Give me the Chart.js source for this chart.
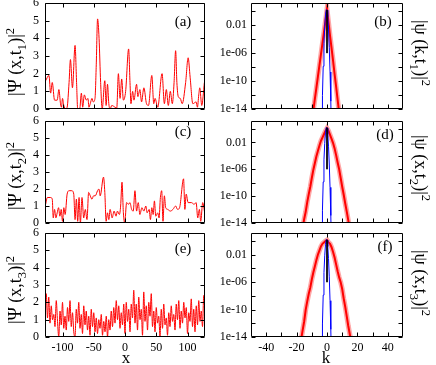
<!DOCTYPE html>
<html><head><meta charset="utf-8">
<script src="https://cdn.jsdelivr.net/npm/chart.js@4"></script>
<style>
html,body{margin:0;padding:0;background:#fff;}
#wrap{position:relative;width:436px;height:365px;overflow:hidden;background:#fff;}
canvas{position:absolute;}
.t{position:absolute;white-space:nowrap;font-family:"Liberation Serif",serif;color:#000;line-height:1;}
.rl{transform:translate(-50%,-50%) rotate(-90deg);font-size:18px;}
.rr{transform:translate(-50%,-50%) rotate(90deg);font-size:18px;}
.pl{transform:translate(-50%,-50%);font-size:15px;}
.ax{transform:translate(-50%,-50%);font-size:17px;}
sub,sup{font-size:70%;line-height:0;}
</style></head>
<body>
<div id="wrap">
<canvas id="ca" width="210" height="122" style="left:0;top:-10px"></canvas>
<canvas id="cc" width="210" height="122" style="left:0;top:104px"></canvas>
<canvas id="ce" width="210" height="145" style="left:0;top:220px"></canvas>
<canvas id="cb" width="231" height="122" style="left:205px;top:-10px"></canvas>
<canvas id="cd" width="231" height="122" style="left:205px;top:104px"></canvas>
<canvas id="cf" width="231" height="145" style="left:205px;top:220px"></canvas>

<div class="t rl" style="left:15px;top:62px">|Ψ (x,t<sub>1</sub>)|<sup>2</sup></div>
<div class="t rl" style="left:15px;top:176px">|Ψ (x,t<sub>2</sub>)|<sup>2</sup></div>
<div class="t rl" style="left:15px;top:290px">|Ψ (x,t<sub>3</sub>)|<sup>2</sup></div>
<div class="t rr" style="left:421px;top:53px">|ψ (k,t<sub>1</sub>)|<sup>2</sup></div>
<div class="t rr" style="left:421px;top:168px">|ψ (x,t<sub>2</sub>)|<sup>2</sup></div>
<div class="t rr" style="left:421px;top:283px">|ψ (x,t<sub>3</sub>)|<sup>2</sup></div>

<div class="t pl" style="left:183px;top:21px">(a)</div>
<div class="t pl" style="left:383px;top:21px">(b)</div>
<div class="t pl" style="left:183px;top:131px">(c)</div>
<div class="t pl" style="left:385px;top:134px">(d)</div>
<div class="t pl" style="left:183px;top:248px">(e)</div>
<div class="t pl" style="left:385px;top:246px">(f)</div>

<div class="t ax" style="left:126px;top:357px">x</div>
<div class="t ax" style="left:326px;top:357px">k</div>
</div>
<script>
// ---- panel (a): |Psi(x,t1)|^2 ----
const xA = [-127,-121.7,-119,-116.4,-112.7,-108.5,-105.8,-103.2,-101.6,-100,-97.9,-95.2,-92.6,-89.5,-87.3,-84.1,-79.9,-77.5,-75.7,-72.5,-69.8,-67.7,-65.1,-61.9,-59.3,-57.7,-55.6,-52.9,-50.8,-48,-46,-43.9,-41.5,-39,-36.5,-32.3,-30.2,-28,-25.9,-23.8,-21.2,-15.9,-13.2,-10.6,-7.9,-5.3,-2.6,1,5.8,8,9.5,12.2,14.3,18.5,20.6,23.8,26.5,30.2,34.4,37.6,42.9,46,48.1,52.4,59.3,63,66.1,69.3,72.5,75.7,78.5,81,83,85.2,88.4,91.5,97,101,104.2,108.5,113.8,115.9,118,119.6,122.8,127];
const yA = [1.6,1.9,0.9,1.5,0.5,0.5,1.1,0.3,0.1,0.6,0.2,0.0,0.1,1.5,2.8,1.2,3.6,1.5,0.0,0.0,0.9,0.1,0.8,0.5,0.6,0.1,0.3,0.6,0.4,0.6,2.5,5.1,4.0,1.5,0.0,1.6,0.2,1.4,0.3,0.0,0.2,0.1,0.05,2.0,0.6,1.7,0.5,1.0,3.4,1.5,0.3,1.0,0.5,1.4,0.7,1.1,0.4,1.2,0.3,0.2,1.9,0.3,0.6,0.1,2.0,0.3,1.1,0.2,1.0,0.3,1.5,3.3,1.5,0.7,0.6,0.3,1.5,2.9,1.8,0.3,0.4,0.1,0.8,1.2,0.2,1.5];

// ---- panel (c): |Psi(x,t2)|^2 ----
const xC = [-127,-124.3,-119,-116.4,-114.8,-112.7,-110.6,-108.5,-106.3,-104.2,-102.1,-100,-97.9,-95.8,-92.6,-89.4,-85.2,-82,-79.9,-77.8,-75.7,-73.5,-71.4,-68.8,-66.1,-63.5,-60.8,-58.2,-55.6,-52.9,-50.3,-47.6,-43.9,-41.8,-39.7,-34.4,-32.3,-30.2,-28,-25.9,-23.8,-20.6,-17.5,-14.3,-12.2,-9,-7,-4.8,-2.6,-0.5,2.6,5.8,7.9,10.6,13.2,15.9,18.5,21.2,23.8,27,30.2,33.3,35.4,38.6,40.7,42.9,45,47.1,49.2,52.4,54.5,56.6,58.7,60.8,63,65.1,68.3,72.5,76.7,81,84.1,87.3,93.7,95.8,97.9,101,106.3,110.6,113.8,116.4,119,121.2,124.3,127.5];
const yC = [1.1,1.5,1.5,1.4,0.3,0.8,0.3,0.6,0.9,0.4,0.8,0.1,0.9,0.5,1.7,1.9,1.9,1.7,0.2,1.4,0.1,1.5,0.0,1.5,0.3,0.8,0.2,1.8,1.6,1.4,1.6,1.6,1.9,2.0,1.6,2.7,1.8,0.1,0.6,0.2,0.8,0.3,0.7,0.4,0.7,0.5,1.0,2.4,0.6,0.0,1.2,1.1,1.2,0.8,0.7,1.9,0.7,1.2,0.5,0.9,0.7,1.0,0.6,0.8,0.2,0.9,0.5,1.3,0.4,0.6,0.3,1.5,1.9,0.1,1.6,0.9,0.8,0.7,0.8,1.0,0.8,0.9,2.6,0.8,1.7,1.2,1.2,1.1,1.2,0.3,0.8,0.1,1.2,0.6];

// ---- panel (e): |Psi(x,t3)|^2, sampled every 2 from x=-128 ----
const xEStart = -128, xEStep = 2;
const yE = [0.4,2.5,1.1,2.3,0.8,1.8,1.0,1.3,0.6,2.1,0.9,0.0,1.5,0.7,2.0,0.5,1.2,0.4,1.7,0.9,2.1,0.6,1.4,0.3,0.0,1.6,0.8,2.0,0.5,1.3,0.2,1.8,0.7,1.5,0.4,1.2,0.1,1.6,0.6,1.4,0.3,1.1,0.2,1.0,0.5,1.3,0.1,0.9,0.3,1.2,0.0,1.0,0.4,1.5,0.6,1.7,0.8,2.1,1.0,1.8,0.5,1.4,0.7,1.9,0.2,2.0,0.9,1.6,0.3,1.9,1.1,2.7,0.8,1.9,0.4,2.3,1.0,1.6,0.1,2.6,0.9,1.8,0.4,2.0,1.2,2.5,0.6,1.5,0.3,1.7,0.8,1.2,0.0,1.6,0.5,1.9,0.7,1.1,0.1,1.4,0.6,1.8,0.9,1.3,0.4,1.9,1.0,2.1,0.5,1.5,0.8,2.0,1.1,1.7,0.2,1.4,0.9,2.2,0.6,1.6,0.3,1.8,0.7,2.1,0.9,1.5,0.6,2.4,1.8];

// ---- spectra ----
const kB = [-9,-8,-7,-6,-5,-4,-3,-2,-1,0,1,2,3,4,5,6,7,8];
const specB = [6e-15,2.5e-13,1e-11,4e-10,1.6e-8,6e-7,2.5e-5,1e-3,4e-2,2,2.5e-2,3e-4,5e-6,8e-8,1e-9,1.6e-11,2e-13,3e-15];
const kD = [-16,-15,-14,-13,-12,-11,-10,-9,-8,-7,-6,-5,-4,-3,-2,-1,0,1,2,3,4,5,6,7,8,9,10,11,12,13,14,15];
const specD = [2e-15,4e-14,5e-13,1.26e-11,2e-10,2.5e-9,5e-8,7.9e-7,7.9e-6,7.9e-5,5e-4,3.2e-3,1.6e-2,5e-2,0.16,0.5,1.26,0.5,0.126,3.2e-2,7.9e-3,1.26e-3,1.26e-4,1e-5,1e-6,5e-8,2.5e-9,1.6e-10,7.9e-12,5e-13,2.5e-14,1.26e-15];
const kF = [-17,-16,-15,-14,-13,-12,-11,-10,-9,-8,-7,-6,-5,-4,-3,-2,-1,0,1,2,3,4,5,6,7,8,9,10,11,12,13,14,15,16];
const specF = [5e-15,1e-13,2e-12,1e-10,1.6e-9,2e-8,1.6e-7,2.5e-6,2.5e-5,2e-4,1.6e-3,1e-2,4e-2,0.16,0.4,0.63,1,1.4,0.63,0.4,0.126,2.5e-2,4e-3,4e-4,4e-5,5e-6,1e-6,1e-7,4e-9,2.5e-10,1e-11,4e-13,2.5e-14,1.6e-15];
const kInit = [-3.4,-3.2,-3,-2.5,-2,-1.5,-1,-0.5,0,0.5,1,1.5,2,2.5,2.7];
const specInit = [5e-16,1e-14,8e-13,1.3e-8,2.5e-5,7e-3,0.3,1.7,1.4,0.16,2.7e-3,6e-6,2e-9,1.3e-13,1e-15];
const kCenter = [0,0];
const specCenter = [1.5,1e-6];

// ---- ticks ----
const xTicksL = [-100,-50,0,50,100];
const yTicksL = [0,1,2,3,4,5,6];
const kTicks = [-40,-20,0,20,40];
const kMinor = [-40,-30,-20,-10,0,10,20,30,40];
const logLabelVals = [1e-14,1e-10,1e-6,1e-2];
const logLabelText = ['1e-14','1e-10','1e-06','0.01'];
const logTicks = [1e-14,1e-12,1e-10,1e-8,1e-6,1e-4,1e-2,1];

const pts = (xs, ys) => xs.map((x, i) => ({x, y: ys[i]}));
const FONT = {family: '"Liberation Serif", serif', size: 12};

const frame = {
  id: 'frame',
  afterDatasetsDraw(chart, args, o) {
    const {ctx, chartArea: a, scales: {x, y}} = chart;
    const L = Math.round(a.left) + 0.5, R = Math.round(a.right) - 0.5;
    const T = Math.round(a.top) + 0.5, B = Math.round(a.bottom) - 0.5;
    ctx.save();
    ctx.strokeStyle = '#000'; ctx.lineWidth = 1;
    ctx.beginPath();
    ctx.rect(L, T, R - L, B - T);
    const len = 4;
    o.xt.forEach(v => { const p = Math.round(x.getPixelForValue(v)) + 0.5;
      ctx.moveTo(p, B); ctx.lineTo(p, B - len); ctx.moveTo(p, T); ctx.lineTo(p, T + len); });
    o.yt.forEach(v => { const p = Math.round(y.getPixelForValue(v)) + 0.5;
      ctx.moveTo(L, p); ctx.lineTo(L + len, p); ctx.moveTo(R, p); ctx.lineTo(R - len, p); });
    ctx.stroke();
    ctx.restore();
  }
};

function mk(id, datasets, c) {
  return new Chart(document.getElementById(id), {
    type: 'line',
    data: {datasets},
    options: {
      responsive: false, animation: false, devicePixelRatio: 1,
      layout: {autoPadding: false, padding: {top: c.pt, right: c.pr, left: 0, bottom: 0}},
      plugins: {legend: {display: false}, tooltip: {enabled: false}, frame: {xt: c.xt, yt: c.yt}},
      elements: {point: {radius: 0}},
      scales: {
        x: {type: 'linear', min: c.xmin, max: c.xmax,
            grid: {display: false, drawTicks: false}, border: {display: false},
            afterBuildTicks: s => { s.ticks = c.xl.map(v => ({value: v})); },
            afterFit: s => { s.height = c.hx; s.paddingLeft = 0; s.paddingRight = 0; s.paddingTop = 0; s.paddingBottom = 0; },
            ticks: {display: c.showX, font: FONT, color: '#000', padding: 4, maxRotation: 0, autoSkip: false}},
        y: {type: c.ylog ? 'logarithmic' : 'linear', min: c.ymin, max: c.ymax,
            grid: {display: false, drawTicks: false}, border: {display: false},
            afterBuildTicks: s => { s.ticks = c.yl.map(v => ({value: v})); },
            afterFit: s => { s.width = c.wy; s.paddingLeft = 0; s.paddingRight = 0; s.paddingTop = 0; s.paddingBottom = 0; },
            ticks: {font: FONT, color: '#000', padding: c.ypad, autoSkip: false, callback: c.yfmt}}
      }
    },
    plugins: [frame]
  });
}

const redThin = d => ({data: d, borderColor: '#ff0000', borderWidth: 1, cubicInterpolationMode: 'monotone', clip: 0});
const leftCfg = (pt, hx, showX) => ({pt, pr: 5, hx, wy: 45, showX, xmin: -128, xmax: 128, xl: xTicksL, xt: xTicksL,
  ylog: false, ymin: 0, ymax: 6, yl: yTicksL, yt: yTicksL, ypad: 6, yfmt: v => String(v)});
const logFmt = v => {
  const i = logLabelVals.findIndex(t => Math.abs(Math.log10(t) - Math.log10(v)) < 0.01);
  return i >= 0 ? logLabelText[i] : '';
};
const rightCfg = (pt, hx, showX) => ({pt, pr: 33, hx, wy: 46, showX, xmin: -50, xmax: 50, xl: kTicks, xt: kMinor,
  ylog: true, ymin: 1e-14, ymax: 15, yl: logLabelVals, yt: logTicks, ypad: 4, yfmt: logFmt});
const specSets = (k, s) => [
  {data: pts(kCenter, specCenter), borderColor: '#000000', borderWidth: 1, clip: 0},
  {data: pts(kInit, specInit), borderColor: '#0000ff', borderWidth: 1, clip: 0},
  {data: pts(k, s), borderColor: '#ff0000', borderWidth: 2, clip: 0},
  {data: pts(k, s), borderColor: 'rgba(255,0,0,0.35)', borderWidth: 5, clip: 0}
];

const xE = yE.map((_, i) => xEStart + i * xEStep);
mk('ca', [redThin(pts(xA, yA))], leftCfg(13, 3, false));
mk('cc', [redThin(pts(xC, yC))], leftCfg(17, 3, false));
mk('ce', [redThin(pts(xE, yE))], leftCfg(13, 28, true));
mk('cb', specSets(kB, specB), rightCfg(13, 3, false));
mk('cd', specSets(kD, specD), rightCfg(17, 3, false));
mk('cf', specSets(kF, specF), rightCfg(13, 28, true));
</script>
</body></html>
